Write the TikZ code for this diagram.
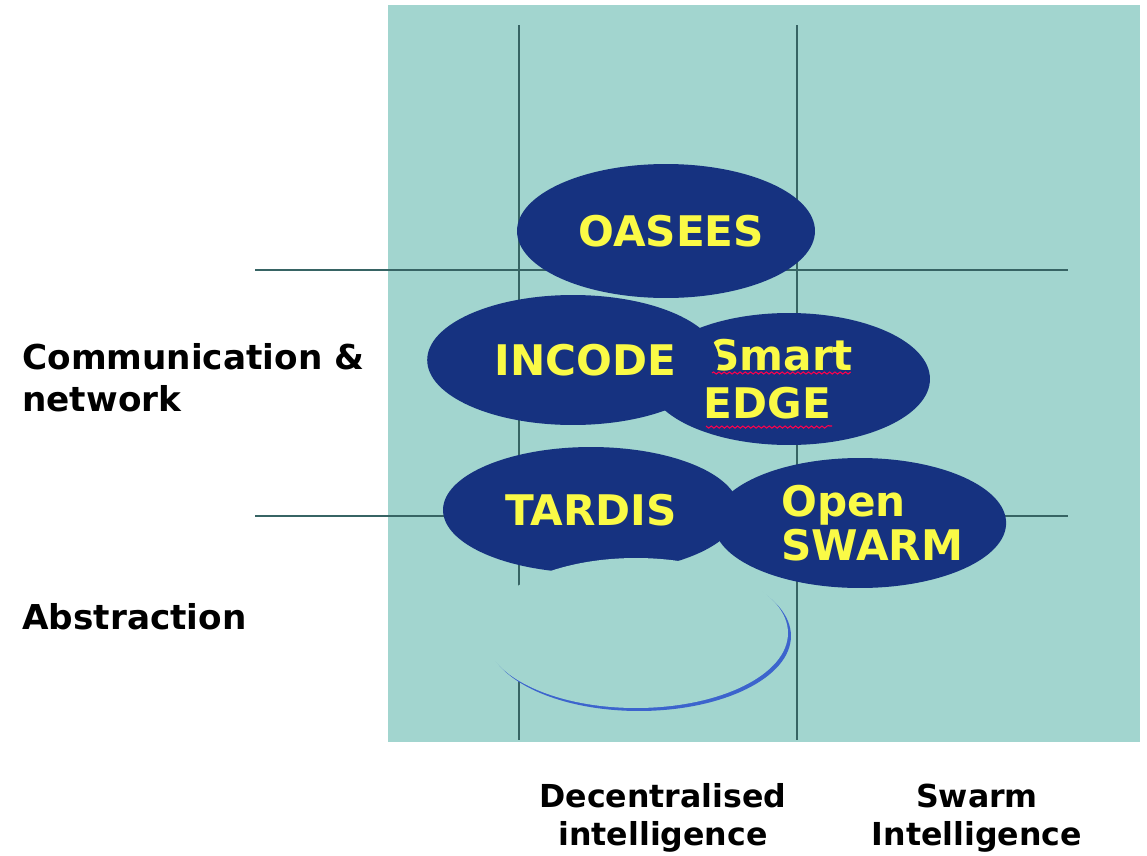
\documentclass[tikz,border=0pt]{standalone}
\usepackage{fontspec}
\setmainfont{DejaVu Sans}
\usetikzlibrary{shapes.geometric,decorations.pathmorphing}
\definecolor{gridbg}{RGB}{162,213,207}
\definecolor{gridline}{RGB}{55,100,100}
\definecolor{navy}{RGB}{22,50,128}
\definecolor{lemon}{RGB}{250,250,70}
\definecolor{rim}{RGB}{60,100,205}

\begin{document}
\begin{tikzpicture}[x=0.02cm, y=-0.02cm,
	blob/.style={shape=ellipse,fill=navy,text=lemon,inner sep=0pt,align=left,font=\fontsize{24}{29}\selectfont\bfseries},
	axis/.style={text=black,align=center,inner sep=0pt,font=\fontsize{18}{22}\selectfont\bfseries},
	rule/.style={draw=gridline,line width=1.1pt}]
		\useasboundingbox (0,0) rectangle (1147,856);
		\fill[gridbg] (388,5) rectangle (1140,742);

		% grid
		\draw[rule] (519,25) -- (519,740)
		(797,25) -- (797,740)
		(255,270) -- (1068,270)
		(255,516) -- (1068,516);

		% projects
		\path (666,231) node[blob,minimum width=5.96cm,minimum height=2.68cm] (oasees) {\hspace*{6pt}OASEES}
		(789,379) node[blob,minimum width=5.64cm,minimum height=2.64cm] (smartedge) {\hspace*{3pt}Smart\hspace*{12pt}\\[-2pt]EDGE}
		(573,360) node[blob,minimum width=5.6cm,minimum height=2.6cm] (incode) {\hspace*{14pt}INCODE};
		\path (591,510) node[blob,minimum width=5.92cm,minimum height=2.52cm] (tardis) {TARDIS}
		(860,523) node[blob,minimum width=5.76cm,minimum height=2.6cm] (openswarm) {\hspace*{14pt}Open\\[-4pt]\hspace*{14pt}SWARM};

		% spelling marks
		\draw[red!70!magenta,line width=0.6pt,decorate,decoration={snake,amplitude=0.6pt,segment length=3pt}]
		(712,373) -- (850,373)
		(706,426) -- (832,426);

		% blank patch
		\path (639,636) node[shape=ellipse,fill=rim,minimum width=6.08cm,minimum height=3cm] (rimblank) {}
		(636,633) node[shape=ellipse,fill=gridbg,minimum width=6.08cm,minimum height=3cm] (blank) {};

		% axes
		\path (22,378) node[axis,anchor=west,align=left,font=\fontsize{19.5}{24}\selectfont\bfseries] (comm) {Communication \&\\network}
		(22,617) node[axis,anchor=west,font=\fontsize{19.5}{24}\selectfont\bfseries] (abstr) {Abstraction}
		(663,818) node[axis] (decen) {Decentralised\\intelligence}
		(977,818) node[axis] (swarm) {Swarm\\Intelligence};
	\end{tikzpicture}
\end{document}
